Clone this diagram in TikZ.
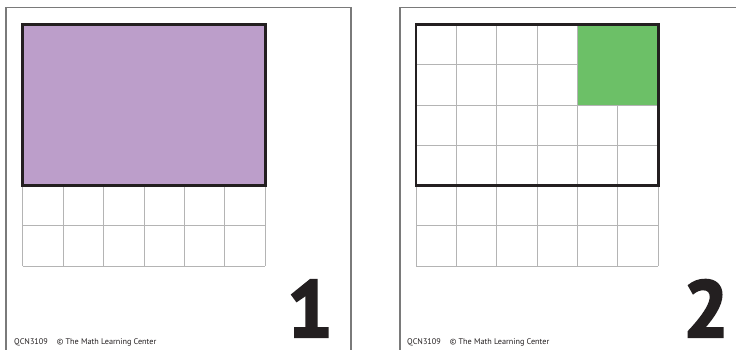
\documentclass[tikz,border=0pt]{standalone}
\usepackage{fontspec}
\setmainfont{PT Sans}
\newfontfamily\bignumfont[BoldFeatures={FakeBold=3}]{PT Sans}
\definecolor{purp}{HTML}{BC9ECA}
\definecolor{grn}{HTML}{6CC067}
\definecolor{gridc}{HTML}{B4B4B4}
\definecolor{edge}{HTML}{231F20}
\definecolor{panelc}{HTML}{7A7A7A}
\begin{document}
\begin{tikzpicture}[x=1pt,y=-1pt,
  panel/.style={draw=panelc,line width=1.2pt},
  gridline/.style={draw=gridc,line width=0.9pt},
  thick frame/.style={draw=edge,line width=2.6pt},
  footer/.style={font=\fontsize{8.2}{9}\selectfont,anchor=base west,inner sep=0pt,text=edge},
  bignum/.style={font=\fontsize{80}{80}\selectfont\bignumfont\bfseries,anchor=base,inner sep=0pt,text=edge}]
\useasboundingbox (0,0) rectangle (736,350);
\fill[white] (0,0) rectangle (736,350);
% panel outlines
\draw[panel] (6,360) -- (6,7.5) -- (351,7.5) -- (351,360);
\draw[panel] (400,360) -- (400,7.5) -- (745,7.5);
% panel 1 grid
\foreach \i in {0,...,6} {
  \draw[gridline] (22.7+\i*40.43,24.5) -- (22.7+\i*40.43,266);
  \draw[gridline] (22.7,24.5+\i*40.25) -- (265.3,24.5+\i*40.25);
}
\fill[purp] (22.7,24.5) rectangle (265.3,185.5);
\draw[thick frame] (22.7,24.5) rectangle (265.3,185.5);
% panel 2 grid
\foreach \i in {0,...,6} {
  \draw[gridline] (416+\i*40.38,24.5) -- (416+\i*40.38,266);
  \draw[gridline] (416,24.5+\i*40.25) -- (658.3,24.5+\i*40.25);
}
\fill[grn] (577.5,24.5) rectangle (658.3,105);
\draw[thick frame] (416,24.5) rectangle (658.3,185.5);
% numbers
\node[bignum] (n1) at (310,337) {1};
\node[bignum] (n2) at (706,337) {2};
% footers
\node[footer] (f1) at (14,344) {QCN3109\hspace{9pt}© The Math Learning Center};
\node[footer] (f2) at (407,344) {QCN3109\hspace{9pt}© The Math Learning Center};
\end{tikzpicture}
\end{document}
